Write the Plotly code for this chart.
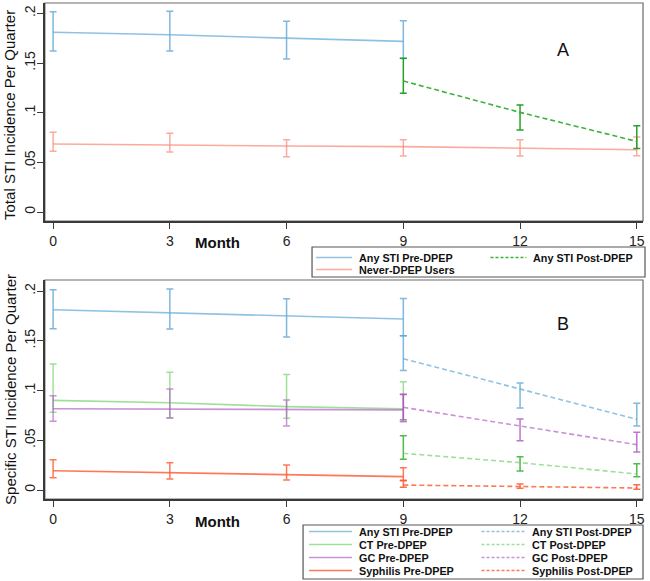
import plotly.graph_objects as go

W, H = 650, 581

# ---------------- data ----------------
pre_months = [0, 3, 6, 9]
post_months = [9, 12, 15]
all_months = [0, 3, 6, 9, 12, 15]
x_ticks = [0, 3, 6, 9, 12, 15]
y_ticks = [0, 0.05, 0.1, 0.15, 0.2]
y_tick_labels = ["0", ".05", ".1", ".15", ".2"]

# Panel A
a_any_pre = [0.181, 0.1785, 0.175, 0.1718]
a_any_pre_hi = [0.2016, 0.202, 0.192, 0.1926]
a_any_pre_lo = [0.162, 0.162, 0.154, 0.1545]
a_any_post = [0.1319, 0.1003, 0.0711]
a_any_post_hi = [0.1547, 0.1077, 0.0869]
a_any_post_lo = [0.1195, 0.0825, 0.064]
a_never = [0.0684, 0.0671, 0.0664, 0.0658, 0.0641, 0.0627]
a_never_hi = [0.0802, 0.0792, 0.0728, 0.0728, 0.0728, 0.0755]
a_never_lo = [0.0611, 0.0604, 0.0557, 0.0564, 0.0564, 0.0567]

# Panel B
b_any_pre = [0.1812, 0.178, 0.1749, 0.1719]
b_any_pre_hi = [0.2013, 0.202, 0.1923, 0.1926]
b_any_pre_lo = [0.162, 0.1618, 0.1538, 0.155]
b_any_post = [0.132, 0.1018, 0.071]
b_any_post_hi = [0.155, 0.1075, 0.0871]
b_any_post_lo = [0.12, 0.0824, 0.0643]
b_ct_pre = [0.0901, 0.0877, 0.0838, 0.0817]
b_ct_pre_hi = [0.1266, 0.1183, 0.1162, 0.1089]
b_ct_pre_lo = [0.0781, 0.0724, 0.072, 0.069]
b_ct_post = [0.0369, 0.0275, 0.0161]
b_ct_post_hi = [0.0546, 0.0335, 0.0265]
b_ct_post_lo = [0.0308, 0.0191, 0.0134]
b_gc_pre = [0.0817, 0.0814, 0.0808, 0.0805]
b_gc_pre_hi = [0.0948, 0.1015, 0.0905, 0.0962]
b_gc_pre_lo = [0.069, 0.0724, 0.0643, 0.0685]
b_gc_post = [0.0831, 0.0647, 0.0456]
b_gc_post_hi = [0.096, 0.0714, 0.058]
b_gc_post_lo = [0.0705, 0.0496, 0.0382]
b_sy_pre = [0.0194, 0.0174, 0.0154, 0.0134]
b_sy_pre_hi = [0.0305, 0.0275, 0.0251, 0.0224]
b_sy_pre_lo = [0.0124, 0.011, 0.01, 0.0092]
b_sy_post = [0.005, 0.0037, 0.002]
b_sy_post_hi = [0.0097, 0.006, 0.0054]
b_sy_post_lo = [0.0027, 0.0017, 0.0007]

# ---------------- styles ----------------
BLUE = "rgba(100,170,215,0.72)"
BLUE_E = "rgba(95,165,212,0.8)"
SALMON = "rgba(250,130,110,0.68)"
GREEN_A = "rgba(50,175,50,0.95)"
GREEN_A_E = "rgba(30,155,30,0.95)"
CT = "rgba(120,210,110,0.7)"
CT_E = "rgba(60,180,55,0.9)"
GC = "rgba(175,95,195,0.68)"
GC_E = "rgba(170,85,190,0.8)"
SY = "rgba(255,85,45,0.8)"
SY_E = "rgba(255,85,45,0.85)"
FONT = "Liberation Sans, Arial, Helvetica, sans-serif"

fig = go.Figure()


def add_series(x, y, hi, lo, color, ecolor, dash, xa, ya):
    fig.add_trace(go.Scatter(
        x=x, y=y, mode="lines", xaxis=xa, yaxis=ya, showlegend=False,
        line=dict(color=color, width=1.6, dash=dash),
        error_y=dict(type="data", symmetric=False,
                     array=[h - v for h, v in zip(hi, y)],
                     arrayminus=[v - l for l, v in zip(lo, y)],
                     color=ecolor, thickness=1.5, width=3.5),
        hoverinfo="x+y"))


# Panel A
add_series(all_months, a_never, a_never_hi, a_never_lo, SALMON, SALMON, "solid", "x", "y")
add_series(pre_months, a_any_pre, a_any_pre_hi, a_any_pre_lo, BLUE, BLUE_E, "solid", "x", "y")
add_series(post_months, a_any_post, a_any_post_hi, a_any_post_lo, GREEN_A, GREEN_A_E, "5px,3px", "x", "y")

# Panel B
add_series(pre_months, b_any_pre, b_any_pre_hi, b_any_pre_lo, BLUE, BLUE_E, "solid", "x2", "y2")
add_series(pre_months, b_ct_pre, b_ct_pre_hi, b_ct_pre_lo, CT, CT, "solid", "x2", "y2")
add_series(pre_months, b_gc_pre, b_gc_pre_hi, b_gc_pre_lo, GC, GC, "solid", "x2", "y2")
add_series(pre_months, b_sy_pre, b_sy_pre_hi, b_sy_pre_lo, SY, SY, "solid", "x2", "y2")
add_series(post_months, b_any_post, b_any_post_hi, b_any_post_lo, BLUE, BLUE_E, "5px,3px", "x2", "y2")
add_series(post_months, b_ct_post, b_ct_post_hi, b_ct_post_lo, CT, CT_E, "5px,3px", "x2", "y2")
add_series(post_months, b_gc_post, b_gc_post_hi, b_gc_post_lo, GC, GC_E, "5px,3px", "x2", "y2")
add_series(post_months, b_sy_post, b_sy_post_hi, b_sy_post_lo, SY, SY_E, "5px,3px", "x2", "y2")


def px_x(p):
    return p / W


def px_y(p):
    return 1 - p / H


xdom = [px_x(45), px_x(645)]
xrange_ = [-0.212, 15.16]
axis_common = dict(showgrid=False, zeroline=False, showline=True, linecolor="#3a3a3a",
                   linewidth=1.6, ticks="outside", ticklen=6, tickwidth=1.2,
                   tickcolor="#3a3a3a", tickfont=dict(family=FONT, size=14, color="#222"))

fig.update_layout(
    width=W, height=H, margin=dict(l=0, r=0, t=0, b=0),
    paper_bgcolor="white", plot_bgcolor="white", showlegend=False,
    xaxis=dict(domain=xdom, range=xrange_, anchor="y", tickvals=x_ticks, **axis_common),
    yaxis=dict(domain=[px_y(221), px_y(3)], range=[-0.00906, 0.2104], anchor="x",
               tickvals=y_ticks, ticktext=y_tick_labels, tickangle=-90,
               ticklabelstandoff=-4, **axis_common),
    xaxis2=dict(domain=xdom, range=xrange_, anchor="y2", tickvals=x_ticks, **axis_common),
    yaxis2=dict(domain=[px_y(499), px_y(280)], range=[-0.00905, 0.2111], anchor="x2",
                tickvals=y_ticks, ticktext=y_tick_labels, tickangle=-90,
                ticklabelstandoff=-4, **axis_common),
)

shapes = []
annotations = []

# plot region outlines
for xr, yr in (("x domain", "y domain"), ("x2 domain", "y2 domain")):
    shapes.append(dict(type="rect", xref=xr, yref=yr, x0=0, x1=1, y0=0, y1=1,
                       line=dict(color="#6a6a6a", width=1.2), layer="below"))


def text(x, y, s, size, bold=False, angle=0, anchor="center"):
    annotations.append(dict(
        x=px_x(x), y=px_y(y), xref="paper", yref="paper", showarrow=False,
        text=f"<b>{s}</b>" if bold else s, textangle=angle, xanchor=anchor, yanchor="middle",
        font=dict(family=FONT, size=size, color="#111")))


# titles / labels
text(10, 115, "Total STI Incidence Per Quarter", 15, angle=-90)
text(10, 389, "Specific STI Incidence Per Quarter", 15, angle=-90)
text(218, 242, "Month", 15, bold=True)
text(218, 521, "Month", 15, bold=True)
text(565, 50, "A", 18)
text(565, 324, "B", 18)


# manual legends
def legend_box(x0, x1, y0, y1):
    shapes.append(dict(type="rect", xref="paper", yref="paper", x0=px_x(x0), x1=px_x(x1),
                       y0=px_y(y1), y1=px_y(y0), line=dict(color="#555", width=1.2),
                       fillcolor="white", layer="above"))


def legend_item(sx0, sx1, tx, y, color, dash, label):
    shapes.append(dict(type="line", xref="paper", yref="paper", x0=px_x(sx0), x1=px_x(sx1),
                       y0=px_y(y), y1=px_y(y), line=dict(color=color, width=1.6, dash=dash),
                       layer="above"))
    text(tx, y, label, 10.8, bold=True, anchor="left")


legend_box(313, 647, 247, 277)
legend_item(317, 353, 358, 257.5, BLUE, "solid", "Any STI Pre-DPEP")
legend_item(492, 528, 533, 257.5, GREEN_A, "3px,2px", "Any STI Post-DPEP")
legend_item(317, 353, 358, 269.5, SALMON, "solid", "Never-DPEP Users")

legend_box(304, 645, 525, 579)
rows = [531.5, 544.5, 557.5, 570.5]
pre_items = [("Any STI Pre-DPEP", BLUE), ("CT Pre-DPEP", CT), ("GC Pre-DPEP", GC), ("Syphilis Pre-DPEP", SY)]
post_items = [("Any STI Post-DPEP", BLUE), ("CT Post-DPEP", CT), ("GC Post-DPEP", GC), ("Syphilis Post-DPEP", SY)]
for r, (lab, col) in zip(rows, pre_items):
    legend_item(310, 353, 358, r, col, "solid", lab)
for r, (lab, col) in zip(rows, post_items):
    legend_item(483, 528, 532, r, col, "3px,2px", lab)

fig.update_layout(shapes=shapes, annotations=annotations)

fig.write_html("out.html", config={"displayModeBar": False},
               post_script="document.body.style.margin='0px';")
